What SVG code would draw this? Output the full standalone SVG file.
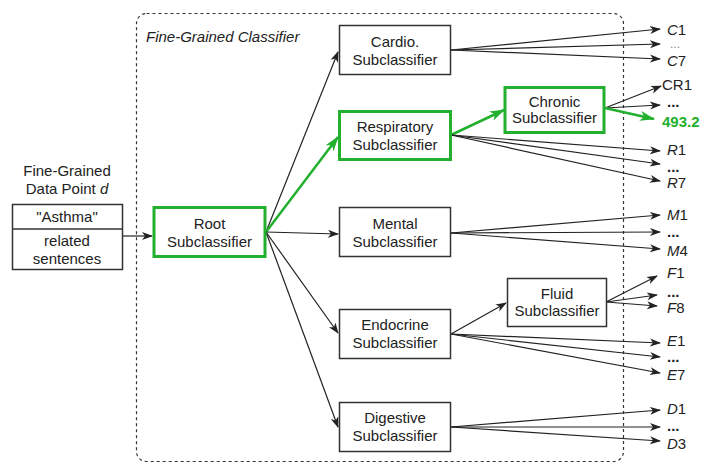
<svg xmlns="http://www.w3.org/2000/svg" width="712" height="463" viewBox="0 0 712 463">
<style>
text{font-family:"Liberation Sans",Arial,sans-serif;font-size:15px;fill:#222}
.c{text-anchor:middle}
.box{fill:#fff;stroke:#333;stroke-width:1.5}
.gbox{fill:#fff;stroke:#22b02e;stroke-width:3}
.ln{stroke:#222;stroke-width:1.2;fill:none}
.gl{stroke:#22b02e;stroke-width:2.5;fill:none}
.i{font-style:italic}
.dots{font-weight:bold}
</style>
<defs>
<marker id="ah" markerUnits="userSpaceOnUse" markerWidth="12" markerHeight="10" refX="10" refY="4" orient="auto" viewBox="0 0 12 8"><path d="M0,0 L11,4 L0,8 L3,4 Z" fill="#222"/></marker>
<marker id="gh" markerUnits="userSpaceOnUse" markerWidth="16" markerHeight="12" refX="14" refY="5" orient="auto" viewBox="0 0 16 10"><path d="M0,0 L15,5 L0,10 L4,5 Z" fill="#22b02e"/></marker>
</defs>
<rect x="136.5" y="13.5" width="487" height="448" rx="10" fill="none" stroke="#333" stroke-width="1.2" stroke-dasharray="3 3"/>
<text x="146" y="42" class="i">Fine-Grained Classifier</text>
<g id="connectors">
<line class="ln" x1="123" y1="236" x2="152" y2="236" marker-end="url(#ah)"/>
<line class="ln" x1="266" y1="232" x2="338" y2="52" marker-end="url(#ah)"/>
<line class="gl" x1="266" y1="232" x2="338" y2="137" marker-end="url(#gh)"/>
<line class="ln" x1="266" y1="232" x2="338" y2="234" marker-end="url(#ah)"/>
<line class="ln" x1="266" y1="232" x2="338" y2="333" marker-end="url(#ah)"/>
<line class="ln" x1="266" y1="232" x2="338" y2="427" marker-end="url(#ah)"/>
<line class="ln" x1="451" y1="50" x2="660" y2="29" marker-end="url(#ah)"/>
<line class="ln" x1="451" y1="50" x2="660" y2="44" marker-end="url(#ah)"/>
<line class="ln" x1="451" y1="50" x2="660" y2="59" marker-end="url(#ah)"/>
<line class="gl" x1="451" y1="135" x2="504" y2="110" marker-end="url(#gh)"/>
<line class="ln" x1="451" y1="135" x2="660" y2="151" marker-end="url(#ah)"/>
<line class="ln" x1="451" y1="135" x2="660" y2="164" marker-end="url(#ah)"/>
<line class="ln" x1="451" y1="135" x2="660" y2="181" marker-end="url(#ah)"/>
<line class="ln" x1="605" y1="108" x2="661" y2="86" marker-end="url(#ah)"/>
<line class="ln" x1="605" y1="108" x2="660" y2="105" marker-end="url(#ah)"/>
<line class="gl" x1="605" y1="108" x2="654" y2="119" marker-end="url(#gh)"/>
<line class="ln" x1="451" y1="233" x2="660" y2="215" marker-end="url(#ah)"/>
<line class="ln" x1="451" y1="233" x2="660" y2="232" marker-end="url(#ah)"/>
<line class="ln" x1="451" y1="233" x2="660" y2="249" marker-end="url(#ah)"/>
<line class="ln" x1="451" y1="334" x2="506" y2="303" marker-end="url(#ah)"/>
<line class="ln" x1="451" y1="334" x2="660" y2="343" marker-end="url(#ah)"/>
<line class="ln" x1="451" y1="334" x2="660" y2="357" marker-end="url(#ah)"/>
<line class="ln" x1="451" y1="334" x2="660" y2="373" marker-end="url(#ah)"/>
<line class="ln" x1="606" y1="302" x2="657" y2="276" marker-end="url(#ah)"/>
<line class="ln" x1="606" y1="302" x2="657" y2="295" marker-end="url(#ah)"/>
<line class="ln" x1="606" y1="302" x2="657" y2="306" marker-end="url(#ah)"/>
<line class="ln" x1="451" y1="427" x2="660" y2="410" marker-end="url(#ah)"/>
<line class="ln" x1="451" y1="427" x2="660" y2="427" marker-end="url(#ah)"/>
<line class="ln" x1="451" y1="427" x2="660" y2="441" marker-end="url(#ah)"/>
</g>
<g id="datapoint">
<text x="67" y="176" class="c">Fine-Grained</text>
<text x="67" y="194" class="c">Data Point <tspan class="i">d</tspan></text>
<rect class="box" x="12.5" y="204.5" width="110" height="65"/>
<line x1="12.5" y1="229" x2="122.5" y2="229" stroke="#333" stroke-width="1.5"/>
<text x="67" y="222" class="c">"Asthma"</text>
<text x="67" y="246" class="c">related</text>
<text x="67" y="264" class="c">sentences</text>
</g>
<g id="root">
<rect class="gbox" x="154" y="207.5" width="111" height="49"/>
<text x="209.5" y="229" class="c">Root</text>
<text x="209.5" y="247" class="c">Subclassifier</text>
</g>
<g id="cardio">
<rect class="box" x="339.5" y="25.5" width="111" height="49"/>
<text x="395" y="47" class="c">Cardio.</text>
<text x="395" y="65" class="c">Subclassifier</text>
</g>
<g id="respiratory">
<rect class="gbox" x="339.5" y="111.5" width="111" height="48"/>
<text x="395" y="132" class="c">Respiratory</text>
<text x="395" y="150" class="c">Subclassifier</text>
</g>
<g id="mental">
<rect class="box" x="339.5" y="207.5" width="111" height="49"/>
<text x="395" y="229" class="c">Mental</text>
<text x="395" y="247" class="c">Subclassifier</text>
</g>
<g id="endocrine">
<rect class="box" x="339.5" y="309.5" width="111" height="49"/>
<text x="395" y="330" class="c">Endocrine</text>
<text x="395" y="348" class="c">Subclassifier</text>
</g>
<g id="digestive">
<rect class="box" x="339.5" y="402.5" width="111" height="49"/>
<text x="395" y="423" class="c">Digestive</text>
<text x="395" y="441" class="c">Subclassifier</text>
</g>
<g id="chronic">
<rect class="gbox" x="505" y="87.5" width="99" height="45"/>
<text x="554.5" y="107" class="c">Chronic</text>
<text x="554.5" y="123" class="c">Subclassifier</text>
</g>
<g id="fluid">
<rect class="box" x="507.5" y="278.5" width="99" height="48"/>
<text x="557" y="299" class="c">Fluid</text>
<text x="557" y="316" class="c">Subclassifier</text>
</g>
<g id="outputs">
<text x="667" y="35"><tspan class="i">C</tspan>1</text>
<text x="670" y="48" style="font-size:12px;fill:#888">...</text>
<text x="667" y="66"><tspan class="i">C</tspan>7</text>
<text x="662" y="90">CR1</text>
<text x="667" y="107" class="dots">...</text>
<text x="662" y="127" style="font-weight:bold;fill:#22b02e">493.2</text>
<text x="667" y="155"><tspan class="i">R</tspan>1</text>
<text x="667" y="172" class="dots">...</text>
<text x="667" y="188"><tspan class="i">R</tspan>7</text>
<text x="667" y="220"><tspan class="i">M</tspan>1</text>
<text x="667" y="237" class="dots">...</text>
<text x="667" y="256"><tspan class="i">M</tspan>4</text>
<text x="667" y="278"><tspan class="i">F</tspan>1</text>
<text x="667" y="297" class="dots">...</text>
<text x="667" y="313"><tspan class="i">F</tspan>8</text>
<text x="667" y="346"><tspan class="i">E</tspan>1</text>
<text x="667" y="362" class="dots">...</text>
<text x="667" y="380"><tspan class="i">E</tspan>7</text>
<text x="667" y="414"><tspan class="i">D</tspan>1</text>
<text x="667" y="431" class="dots">...</text>
<text x="667" y="449"><tspan class="i">D</tspan>3</text>
</g>
</svg>
